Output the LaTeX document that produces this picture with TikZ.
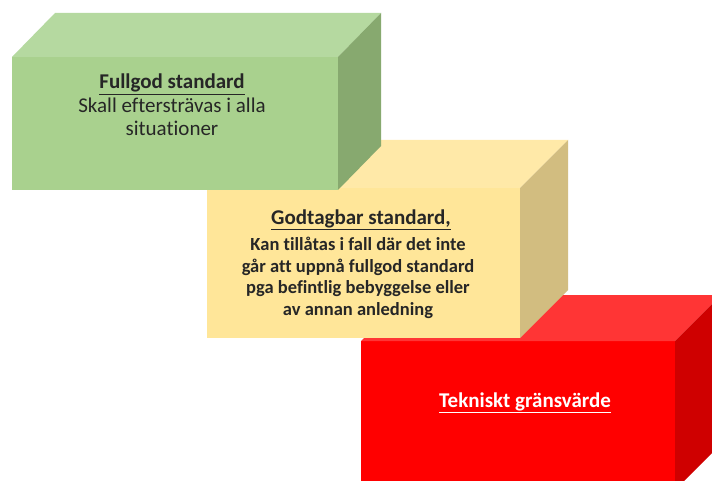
\documentclass[tikz,border=0pt]{standalone}
\usepackage{fontspec}
\setmainfont{Carlito}[Ligatures=NoCommon]

\definecolor{greenfront}{HTML}{A9D18E}
\definecolor{greentop}{HTML}{B5D9A0}
\definecolor{greenside}{HTML}{87A96F}
\definecolor{yellowfront}{HTML}{FFE699}
\definecolor{yellowtop}{HTML}{FFE9A8}
\definecolor{yellowside}{HTML}{D2BD80}
\definecolor{redfront}{HTML}{FF0000}
\definecolor{redtop}{HTML}{FF3535}
\definecolor{redside}{HTML}{CF0000}

\tikzset{boxtext/.style={align=center,text=black!85,inner sep=0pt,font=\fontsize{21}{23.5}\selectfont}}

\begin{document}
\begin{tikzpicture}[x=1pt,y=-1pt]
   \clip (0,0) rectangle (712,481);
   \fill[white] (0,0) rectangle (712,481);
   % red box (back)
   \fill[redfront] (361,341) rectangle (675,490);
   \fill[redtop] (361,341) -- (407,295) -- (721,295) -- (675,341) -- cycle;
   \fill[redside] (675,341) -- (721,295) -- (721,444) -- (675,490) -- cycle;
   \node[boxtext,text=white,font=\fontsize{21}{23.5}\selectfont\bfseries] (tekniskt) at (525,403) {\underline{Tekniskt gränsvärde}};
   % yellow box
   \fill[yellowfront] (207,188) rectangle (520,338);
   \fill[yellowtop] (207,188) -- (255,140) -- (568,140) -- (520,188) -- cycle;
   \fill[yellowside] (520,188) -- (568,140) -- (568,290) -- (520,338) -- cycle;
   \node[boxtext,font=\fontsize{21}{23.5}\selectfont\bfseries] (godtagbartitel) at (361,220) {\underline{Godtagbar standard,}};
   \node[boxtext,font=\fontsize{18.5}{21.7}\selectfont\bfseries] (godtagbar) at (358,278) {Kan tillåtas i fall där det inte\\går att uppnå fullgod standard\\pga befintlig bebyggelse eller\\av annan anledning};
   % green box (front)
   \fill[greenfront] (12,57) rectangle (338,190);
   \fill[greentop] (12,57) -- (55,13) -- (381,13) -- (338,57) -- cycle;
   \fill[greenside] (338,57) -- (381,13) -- (381,146) -- (338,190) -- cycle;
   \node[boxtext] (fullgod) at (172,105) {\textbf{\underline{Fullgod standard}}\\Skall eftersträvas i alla\\situationer};
\end{tikzpicture}
\end{document}
